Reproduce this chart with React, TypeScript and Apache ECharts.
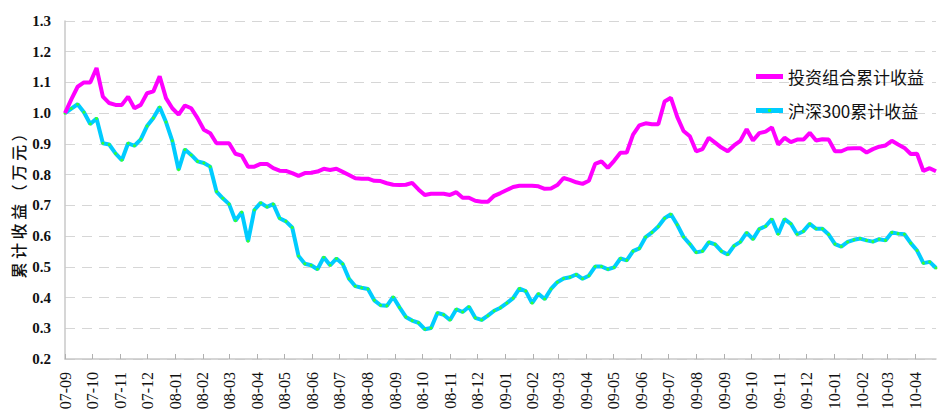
import React, { useEffect, useRef } from "react";
import * as echarts from "echarts";

// Month tick labels (yy-MM), ticks sit on the 1st of each month
const monthLabels = [
  "07-09", "07-10", "07-11", "07-12",
  "08-01", "08-02", "08-03", "08-04", "08-05", "08-06", "08-07", "08-08", "08-09", "08-10", "08-11", "08-12",
  "09-01", "09-02", "09-03", "09-04", "09-05", "09-06", "09-07", "09-08", "09-09", "09-10", "09-11", "09-12",
  "10-01", "10-02", "10-03", "10-04",
];

// Weekly observations starting 2007-09-01
const startDate = "2007-09-01";
const stepDays = 7;

const seriesNames = ["投资组合累计收益", "沪深300累计收益"];
const seriesColors = ["#ff00ff", "#00ccff"];
const markerColor = "#33ff33";

// 投资组合累计收益 (weekly)
const portfolio = [
  1.000, 1.045, 1.086, 1.100, 1.100, 1.147, 1.054, 1.033, 1.027, 1.027,
  1.054, 1.016, 1.027, 1.065, 1.071, 1.120, 1.049, 1.016, 0.995, 1.025,
  1.016, 0.984, 0.946, 0.935, 0.902, 0.902, 0.902, 0.868, 0.862, 0.826,
  0.826, 0.835, 0.835, 0.821, 0.813, 0.812, 0.805, 0.796, 0.805, 0.806,
  0.810, 0.819, 0.815, 0.819, 0.809, 0.799, 0.788, 0.787, 0.787, 0.780,
  0.779, 0.772, 0.767, 0.766, 0.767, 0.773, 0.752, 0.734, 0.738, 0.738,
  0.738, 0.734, 0.743, 0.725, 0.725, 0.715, 0.712, 0.712, 0.731, 0.740,
  0.750, 0.760, 0.764, 0.764, 0.764, 0.762, 0.754, 0.755, 0.766, 0.789,
  0.783, 0.775, 0.770, 0.780, 0.835, 0.843, 0.822, 0.845, 0.871, 0.872,
  0.930, 0.960, 0.967, 0.964, 0.964, 1.038, 1.050, 0.988, 0.942, 0.925,
  0.876, 0.883, 0.920, 0.904, 0.888, 0.876, 0.895, 0.910, 0.948, 0.911,
  0.935, 0.940, 0.954, 0.898, 0.920, 0.906, 0.914, 0.914, 0.936, 0.911,
  0.915, 0.914, 0.876, 0.876, 0.885, 0.886, 0.886, 0.872, 0.883, 0.891,
  0.895, 0.910, 0.898, 0.887, 0.867, 0.868, 0.812, 0.821, 0.811,
];

// 沪深300累计收益 (weekly)
const hs300 = [
  1.000, 1.015, 1.029, 1.003, 0.965, 0.983, 0.902, 0.898, 0.869, 0.847,
  0.902, 0.894, 0.915, 0.958, 0.984, 1.020, 0.971, 0.910, 0.816, 0.882,
  0.864, 0.843, 0.838, 0.826, 0.745, 0.723, 0.704, 0.650, 0.678, 0.583,
  0.685, 0.708, 0.695, 0.704, 0.658, 0.648, 0.628, 0.535, 0.510, 0.505,
  0.492, 0.531, 0.505, 0.527, 0.509, 0.461, 0.437, 0.432, 0.428, 0.391,
  0.375, 0.373, 0.402, 0.368, 0.337, 0.325, 0.318, 0.297, 0.301, 0.350,
  0.344, 0.327, 0.362, 0.353, 0.370, 0.334, 0.327, 0.341, 0.357, 0.367,
  0.382, 0.398, 0.429, 0.421, 0.382, 0.412, 0.395, 0.428, 0.450, 0.462,
  0.466, 0.475, 0.461, 0.471, 0.501, 0.501, 0.492, 0.498, 0.527, 0.521,
  0.551, 0.560, 0.597, 0.612, 0.631, 0.658, 0.671, 0.637, 0.597, 0.574,
  0.547, 0.551, 0.580, 0.573, 0.551, 0.540, 0.568, 0.581, 0.611, 0.590,
  0.623, 0.632, 0.655, 0.606, 0.655, 0.640, 0.606, 0.616, 0.640, 0.624,
  0.624, 0.605, 0.574, 0.566, 0.581, 0.588, 0.592, 0.586, 0.582, 0.590,
  0.586, 0.612, 0.608, 0.606, 0.577, 0.553, 0.512, 0.516, 0.496,
];

const yTitle = "累 计 收 益 （ 万 元 ）";

const DAY = 24 * 3600 * 1000;
const SERIF = "'Liberation Serif', 'Times New Roman', Times, serif";
const CJK = "'Noto Sans CJK SC', sans-serif";

function parseUTC(s: string): number {
  const [y, m, d] = s.split("-").map(Number);
  return Date.UTC(y, m - 1, d);
}

export default function App() {
  const ref = useRef<HTMLDivElement>(null);

  useEffect(() => {
    if (!ref.current) return;
    const chart = echarts.init(ref.current, null, { renderer: "svg" });

    const t0 = parseUTC(startDate);
    // x is measured in days since the start date
    const xs = portfolio.map((_, i) => i * stepDays);
    const tickDays = monthLabels.map((l) => {
      const [yy, mm] = l.split("-").map(Number);
      return Math.round((Date.UTC(2000 + yy, mm - 1, 1) - t0) / DAY);
    });
    const labelOf = (v: number) => {
      const k = tickDays.findIndex((t) => Math.abs(t - v) < 0.5);
      return k >= 0 ? monthLabels[k] : "";
    };

    const legendLeft = 751;
    const legendTop = 63;
    const itemW = 27;

    chart.setOption({
      animation: false,
      backgroundColor: "#ffffff",
      grid: { left: 65, right: 15, top: 21, bottom: 61 },
      legend: {
        orient: "vertical",
        left: legendLeft,
        top: legendTop,
        itemWidth: itemW,
        itemHeight: 5,
        itemGap: 17,
        data: seriesNames.map((n, i) => ({
          name: n,
          icon: "rect",
          itemStyle: { color: seriesColors[i], borderWidth: 0 },
        })),
        textStyle: {
          fontFamily: CJK,
          fontSize: 17,
          color: "#111",
        },
      },
      xAxis: {
        type: "value",
        min: 0,
        max: xs[xs.length - 1],
        axisLine: { show: true, lineStyle: { color: "#c8c8c8", width: 1.5 } },
        axisTick: {
          show: true,
          inside: true,
          length: 5,
          customValues: tickDays,
          lineStyle: { color: "#b0b0b0" },
        },
        axisLabel: {
          customValues: tickDays,
          rotate: 90,
          margin: 13,
          formatter: (v: number) => labelOf(v),
          fontFamily: SERIF,
          fontSize: 16,
          color: "#111",
          hideOverlap: false,
          showMinLabel: true,
          showMaxLabel: true,
        },
        splitLine: { show: false },
      },
      yAxis: {
        type: "value",
        min: 0.2,
        max: 1.3,
        interval: 0.1,
        axisLine: { show: true, lineStyle: { color: "#c8c8c8", width: 1.5 } },
        axisTick: { show: false },
        axisLabel: {
          margin: 14,
          formatter: (v: number) => v.toFixed(1),
          fontFamily: SERIF,
          fontWeight: "bold",
          fontSize: 15,
          color: "#111",
        },
        splitLine: {
          show: true,
          lineStyle: { color: "#d6d6d6", type: [10, 7], width: 1.2 },
        },
      },
      graphic: [
        {
          type: "text",
          x: 18,
          y: 202,
          rotation: Math.PI / 2,
          style: {
            text: yTitle,
            fontFamily: CJK,
            fontSize: 16,
            fontWeight: 500,
            fill: "#111",
            align: "center",
            verticalAlign: "middle",
          },
        },
        {
          type: "circle",
          z: 100,
          shape: { cx: legendLeft + 5 + itemW / 2, cy: legendTop + 5 + 17 + 17 + 8.5, r: 1.6 },
          style: { fill: markerColor },
        },
      ],
      series: [
        {
          name: seriesNames[0],
          type: "line",
          symbol: "none",
          data: xs.map((x, i) => [x, portfolio[i]]),
          lineStyle: { color: seriesColors[0], width: 4 },
          itemStyle: { color: seriesColors[0] },
          z: 3,
        },
        {
          name: seriesNames[1],
          type: "line",
          symbol: "circle",
          symbolSize: 3,
          showSymbol: true,
          showAllSymbol: true,
          data: xs.map((x, i) => [x, hs300[i]]),
          lineStyle: { color: seriesColors[1], width: 4 },
          itemStyle: { color: markerColor, borderWidth: 0 },
          z: 2,
        },
      ],
    });

    return () => chart.dispose();
  }, []);

  return (
    <div
      ref={ref}
      style={{ position: "fixed", left: 0, top: 0, width: 951, height: 420 }}
    />
  );
}
